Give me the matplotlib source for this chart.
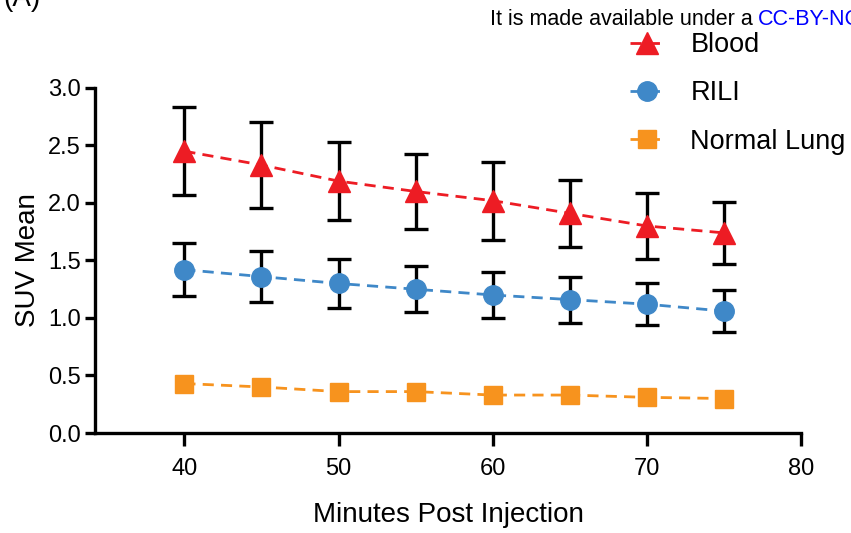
import matplotlib.pyplot as plt

plt.rcParams['font.family'] = ['Liberation Sans', 'DejaVu Sans']

minutes = [40, 45, 50, 55, 60, 65, 70, 75]

blood = [2.45, 2.33, 2.19, 2.10, 2.02, 1.91, 1.80, 1.74]
blood_err = [0.38, 0.37, 0.34, 0.33, 0.34, 0.29, 0.29, 0.27]

rili = [1.42, 1.36, 1.30, 1.25, 1.20, 1.16, 1.12, 1.06]
rili_err = [0.23, 0.22, 0.21, 0.20, 0.20, 0.20, 0.18, 0.18]

lung = [0.43, 0.40, 0.36, 0.36, 0.33, 0.33, 0.31, 0.30]

x_ticks = [40, 50, 60, 70, 80]
y_ticks = [0.0, 0.5, 1.0, 1.5, 2.0, 2.5, 3.0]

RED = '#ED1C24'
BLUE = '#3F88C8'
ORANGE = '#F7931E'

fig = plt.figure(figsize=(8.51, 5.33), dpi=100)
ax = fig.add_axes([0.1116, 0.1876, 0.8296, 0.6474])

err_kw = dict(fmt='none', ecolor='black', elinewidth=2.4, capsize=8.6,
              capthick=2.4, zorder=2)
ax.errorbar(minutes, blood, yerr=blood_err, **err_kw)
ax.errorbar(minutes, rili, yerr=rili_err, **err_kw)

line_kw = dict(linestyle=(0, (4, 2.6)), linewidth=2.0, zorder=3)
ax.plot(minutes, blood, color=RED, marker='^', markersize=16, label='Blood', **line_kw)
ax.plot(minutes, rili, color=BLUE, marker='o', markersize=14, label='RILI', **line_kw)
ax.plot(minutes, lung, color=ORANGE, marker='s', markersize=13, label='Normal Lung', **line_kw)

ax.set_xlim(34.2, 80)
ax.set_ylim(0, 3.0)
ax.set_xticks(x_ticks)
ax.set_yticks(y_ticks)
ax.set_yticklabels([f'{v:.1f}' for v in y_ticks])

for side in ['top', 'right']:
    ax.spines[side].set_visible(False)
for side in ['left', 'bottom']:
    ax.spines[side].set_linewidth(2.4)
ax.tick_params(axis='both', width=2.4, labelsize=17, colors='black')
ax.tick_params(axis='y', length=7, pad=3)
ax.tick_params(axis='x', length=9, pad=9)

ax.set_xlabel('Minutes Post Injection', fontsize=20, labelpad=16)
ax.set_ylabel('SUV Mean', fontsize=20, labelpad=5)

fig.legend(loc='upper left', bbox_to_anchor=(0.727, 0.96), frameon=False,
           fontsize=19.5, labelspacing=0.82, handlelength=1.3, handletextpad=0.95,
           borderaxespad=0)

fig.text(0.004, 0.978, '(A)', fontsize=20, va='bottom', ha='left')
fig.text(0.576, 0.953, 'It is made available under a ', fontsize=15.5, va='baseline', ha='left')
fig.text(0.890, 0.953, 'CC-BY-NC', fontsize=15.5, va='baseline', ha='left', color='#0000FF')

fig.savefig('out.png', dpi=100)
